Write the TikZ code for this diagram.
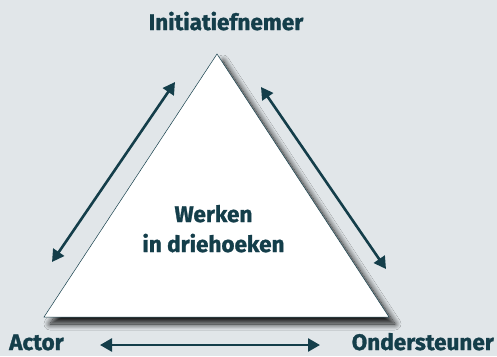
\documentclass[tikz,border=0pt]{standalone}
\usepackage{fontspec}
\setmainfont{Fira Sans}
\newfontfamily\heavy{Fira Sans}[BoldFeatures={FakeBold=1.2}]
\usetikzlibrary{shadows.blur,arrows.meta}
\definecolor{bg}{HTML}{E1E6E9}
\definecolor{ink}{HTML}{143E4A}
\tikzset{
  lbl/.style={font=\heavy\bfseries\fontsize{22.5}{24}\selectfont, text=ink, inner sep=0pt},
  dbl/.style={draw=ink, line width=2.6pt, {Triangle[length=12pt,width=13pt]}-{Triangle[length=12pt,width=13pt]}},
}
\begin{document}
\begin{tikzpicture}[x=1pt,y=-1pt]
\fill[bg] (0,0) rectangle (497,356);
\useasboundingbox (0,0) rectangle (497,356);
\coordinate (T) at (217,54);
\coordinate (L) at (44,317);
\coordinate (R) at (389,317);
\fill[ink, blur shadow={shadow xshift=6pt, shadow yshift=-7pt, shadow blur radius=6pt, shadow blur steps=14, shadow opacity=90}, fill=white, draw=ink, line width=0.5pt] (T) -- (L) -- (R) -- cycle;
\node[lbl, anchor=base] (top) at (226,30) {Initiatiefnemer};
\node[lbl, anchor=base west] (act) at (9,350) {Actor};
\node[lbl, anchor=base east] (ond) at (494,350) {Ondersteuner};
\node[lbl, anchor=base] (ctr1) at (213.5,222) {Werken};
\node[lbl, anchor=base] (ctr2) at (213.5,252) {in driehoeken};
\coordinate (a1) at (52,262);
\coordinate (a2) at (175,82);
\coordinate (b1) at (261,87);
\coordinate (b2) at (386,269);
\coordinate (c1) at (100,345);
\coordinate (c2) at (320,345);
\draw[dbl] (a1) -- (a2);
\draw[dbl] (b1) -- (b2);
\draw[dbl] (c1) -- (c2);
\end{tikzpicture}
\end{document}
